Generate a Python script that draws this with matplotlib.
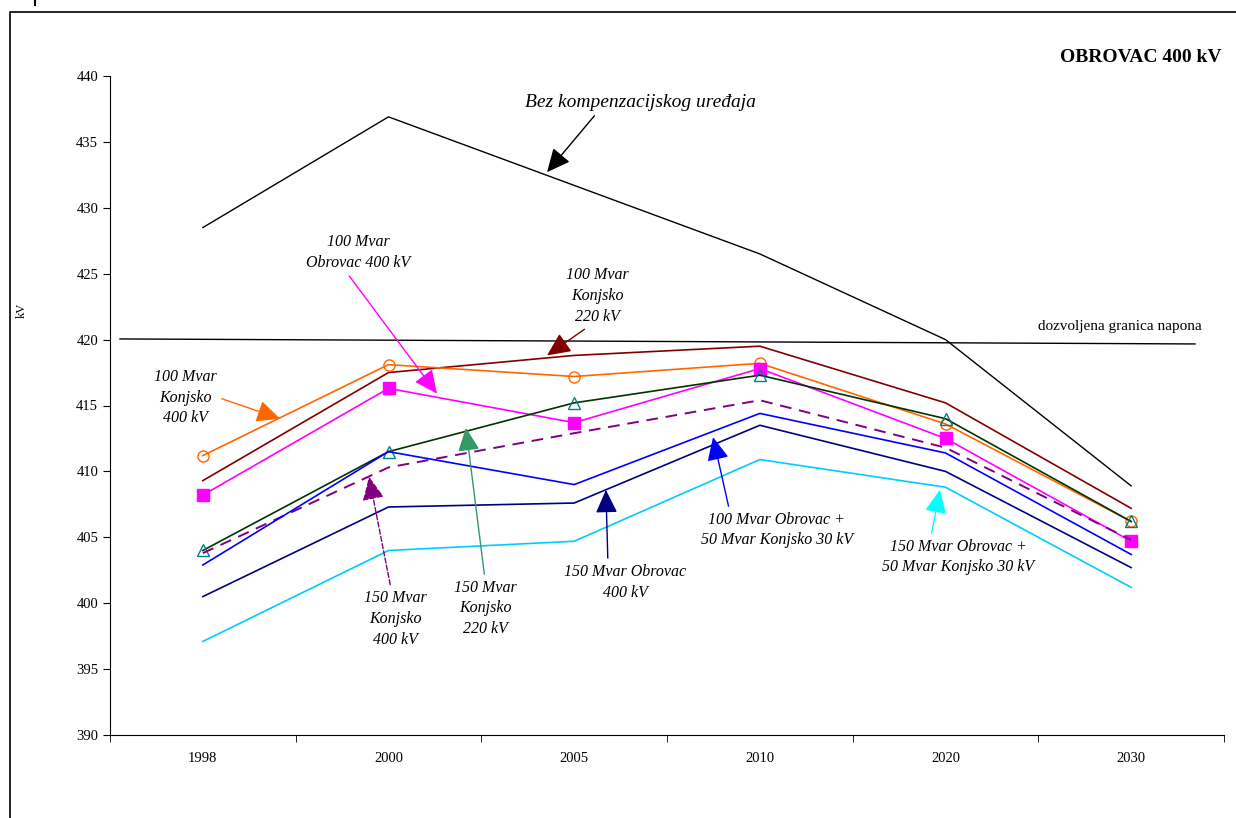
#!/usr/bin/env python
"""Napon u cvoristu Obrovac 400 kV za razne kompenzacijske uredjaje."""
import matplotlib.pyplot as plt
from matplotlib.patches import Rectangle

plt.rcParams['font.family'] = ['Liberation Serif', 'DejaVu Serif']

years = ['1998', '2000', '2005', '2010', '2020', '2030']

bez_komp = [428.5, 436.9, 431.7, 426.5, 420.0, 408.9]
k220_100 = [409.3, 417.5, 418.8, 419.5, 415.2, 407.2]
k400_100 = [411.2, 418.1, 417.2, 418.2, 413.6, 406.2]
o400_100 = [408.2, 416.3, 413.7, 417.8, 412.5, 404.7]
k220_150 = [404.0, 411.5, 415.2, 417.3, 414.0, 406.2]
k400_150 = [403.8, 410.3, 412.9, 415.4, 411.8, 404.8]
o100_k50 = [402.9, 411.5, 409.0, 414.4, 411.4, 403.7]
o400_150 = [400.5, 407.3, 407.6, 413.5, 410.0, 402.7]
o150_k50 = [397.1, 404.0, 404.7, 410.9, 408.8, 401.2]

limit_x = [-0.446, 5.344]
limit_y = [420.05, 419.67]

HEAD = '-|>,head_length=0.6,head_width=0.28'


def annotate(ax, text, xy, xytext, color, ls='-', rel=(0.5, 0.5), size=11.5):
    """Italic label with a filled arrow pointing to the curve."""
    ax.annotate(text, xy=xy, xytext=xytext, ha='center', va='center',
                fontsize=size, style='italic', linespacing=1.4,
                arrowprops=dict(arrowstyle=HEAD, color=color, lw=1.0,
                                ls=ls, mutation_scale=24,
                                shrinkA=2, shrinkB=0, relpos=rel))


def main():
    """Draw the chart and save it."""
    fig = plt.figure(figsize=(12.36, 8.18), dpi=100)
    fig.patches.append(Rectangle((10 / 1236, -0.1), 1.2, 1 - 12 / 818 + 0.1,
                                 transform=fig.transFigure, fill=False,
                                 ec='black', lw=1.2))
    fig.add_artist(plt.Line2D([35 / 1236, 35 / 1236], [1.0, 1 - 5 / 818],
                              transform=fig.transFigure, color='black',
                              lw=1.5))
    ax = fig.add_axes([110 / 1236, 1 - 735 / 818, 1114 / 1236, 659 / 818])
    x = list(range(len(years)))

    ax.plot(x, bez_komp, color='black', lw=1.0)
    ax.plot(limit_x, limit_y, color='black', lw=1.0)
    ax.plot(x, k220_100, color='#800000', lw=1.2)
    ax.plot(x, k400_100, color='#FF6600', lw=1.2, marker='o', ms=8,
            mfc='none', mec='#FF6600')
    ax.plot(x, o400_100, color='#FF00FF', lw=1.2, marker='s', ms=8,
            mfc='#FF00FF', mec='#FF00FF')
    ax.plot(x, k220_150, color='#003300', lw=1.2, marker='^', ms=8,
            mfc='none', mec='#008080')
    ax.plot(x, k400_150, color='#800080', lw=1.4, ls=(0, (6, 4)))
    ax.plot(x, o100_k50, color='#0000FF', lw=1.2)
    ax.plot(x, o400_150, color='#000080', lw=1.2)
    ax.plot(x, o150_k50, color='#00CCFF', lw=1.2)

    ax.set_xlim(-0.5, 5.5)
    ax.set_ylim(390, 440)
    ax.set_yticks(range(390, 441, 5))
    ax.set_xticks(x)
    ax.set_xticklabels(years)
    ax.set_xticks([i - 0.5 for i in range(len(years) + 1)], minor=True)
    ax.tick_params(axis='x', which='major', length=0, pad=12, labelsize=10.5)
    ax.tick_params(axis='x', which='minor', length=5, direction='out')
    ax.tick_params(axis='y', length=5, direction='out', labelsize=10.5)
    for s in ['top', 'right']:
        ax.spines[s].set_visible(False)
    fig.text(22 / 1236, 1 - 310 / 818, 'kV', rotation=90, fontsize=9,
             ha='center', va='center')

    annotate(ax, 'Bez kompenzacijskog uređaja', (1.854, 432.7),
             (2.355, 438.0), 'black', rel=(0.32, 0.0), size=14)
    annotate(ax, '100 Mvar\nObrovac 400 kV', (1.261, 415.9), (0.836, 426.6),
             '#FF00FF', rel=(0.38, 0.0))
    annotate(ax, '100 Mvar\nKonjsko\n220 kV', (1.854, 418.8), (2.123, 423.3),
             '#800000', rel=(0.4, 0.0))
    annotate(ax, '100 Mvar\nKonjsko\n400 kV', (0.416, 414.0), (-0.096, 415.6),
             '#FF6600', rel=(0.9, 0.55))
    annotate(ax, '150 Mvar\nKonjsko\n400 kV', (0.895, 409.6), (1.035, 398.8),
             '#800080', ls='--', rel=(0.45, 0.95))
    annotate(ax, '150 Mvar\nKonjsko\n220 kV', (1.417, 413.3), (1.520, 399.6),
             '#339966', rel=(0.5, 1.0))
    annotate(ax, '150 Mvar Obrovac\n400 kV', (2.171, 408.6), (2.274, 401.6),
             '#000080', rel=(0.36, 1.0))
    annotate(ax, '100 Mvar Obrovac +\n50 Mvar Konjsko 30 kV', (2.748, 412.6),
             (3.092, 405.55), '#0000FF', rel=(0.19, 1.0))
    annotate(ax, '150 Mvar Obrovac +\n50 Mvar Konjsko 30 kV', (3.970, 408.6),
             (4.067, 403.5), '#00FFFF', rel=(0.32, 1.0))

    ax.text(4.94, 421.0, 'dozvoljena granica napona', ha='center',
            va='center', fontsize=11)
    fig.text(1222 / 1236, 1 - 57 / 818, 'OBROVAC 400 kV', ha='right',
             va='center', fontsize=14, fontweight='bold')

    fig.savefig('out.png', dpi=100)


if __name__ == "__main__":
    main()
